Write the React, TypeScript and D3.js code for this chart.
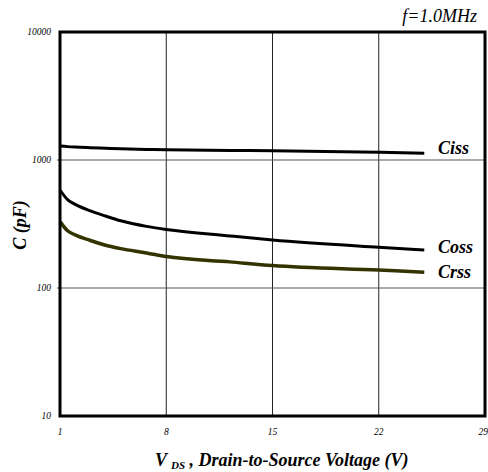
import React from "react";
import * as d3 from "d3";

const W = 488;
const H = 472;

const xTicks = [1, 8, 15, 22, 29];
const yTicks = [10, 100, 1000, 10000];

const vds = [1, 1.5, 2, 3, 4, 5, 6.7, 8, 12.2, 15, 22, 25];
const ciss = [1286, 1272, 1262, 1248, 1236, 1225, 1210, 1200, 1188, 1180, 1148, 1128];
const coss = [583, 490, 450, 400, 365, 335, 303, 287, 255, 237, 208, 198];
const crss = [330, 280, 260, 235, 216, 203, 188, 176, 160, 150, 138, 133];

const series = [
  { name: "Ciss", values: ciss, color: "#000000", width: 3, labelOffset: -6 },
  { name: "Coss", values: coss, color: "#000000", width: 3, labelOffset: -3 },
  { name: "Crss", values: crss, color: "#333300", width: 3.5, labelOffset: 0 },
];

const FONT = "'Liberation Serif', 'Times New Roman', serif";

export default function App() {
  const left = 60, right = 485, top = 32, bottom = 416;
  const x = d3.scaleLinear().domain([1, 29]).range([left, right]);
  const y = d3.scaleLog().domain([10, 10000]).range([bottom, top]);
  const line = d3
    .line<[number, number]>()
    .x((d) => x(d[0]))
    .y((d) => y(d[1]))
    .curve(d3.curveMonotoneX);

  return (
    <svg
      width={W}
      height={H}
      style={{ position: "absolute", left: 0, top: 0, background: "#fff" }}
      fontFamily={FONT}
    >
      <rect x={0} y={0} width={W} height={H} fill="#fff" />
      {xTicks.slice(1, -1).map((t) => (
        <line key={"gx" + t} x1={x(t)} x2={x(t)} y1={top} y2={bottom} stroke="#222" strokeWidth={1} />
      ))}
      {yTicks.slice(1, -1).map((t) => (
        <line key={"gy" + t} x1={left - 3} x2={right} y1={y(t)} y2={y(t)} stroke="#555" strokeWidth={1} />
      ))}
      {series.map((s) => (
        <path
          key={s.name}
          d={line(vds.map((v, i) => [v, s.values[i]]) as [number, number][]) || ""}
          fill="none"
          stroke={s.color}
          strokeWidth={s.width}
          strokeLinejoin="round"
        />
      ))}
      <rect x={left} y={top} width={right - left} height={bottom - top} fill="none" stroke="#000" strokeWidth={3} />
      {yTicks.map((t) => (
        <text key={"yl" + t} x={51} y={y(t)} dy="0.35em" textAnchor="end" fontSize={9.5} fontStyle="italic" fill="#000">
          {t}
        </text>
      ))}
      {xTicks.map((t, i) => (
        <text
          key={"xl" + t}
          x={i === xTicks.length - 1 ? W : x(t)}
          y={432}
          dy="0.35em"
          textAnchor={i === xTicks.length - 1 ? "end" : "middle"}
          fontSize={9.5}
          fontStyle="italic"
          fill="#000"
        >
          {t}
        </text>
      ))}
      {series.map((s) => {
        const last = s.values[s.values.length - 1];
        return (
          <text
            key={"sl" + s.name}
            x={438}
            y={y(last) + s.labelOffset}
            dy="0.35em"
            fontSize={18}
            fontWeight="bold"
            fontStyle="italic"
            fill="#000"
          >
            {s.name}
          </text>
        );
      })}
      <text x={477} y={22} textAnchor="end" fontSize={18} fontStyle="italic" fill="#000">
        f=1.0MHz
      </text>
      <text
        transform="translate(26,225) rotate(-90)"
        textAnchor="middle"
        fontSize={18}
        fontWeight="bold"
        fontStyle="italic"
        fill="#000"
      >
        C (pF)
      </text>
      <text x={155} y={466} fontSize={18} fontWeight="bold" fontStyle="italic" fill="#000">
        V
        <tspan fontSize={11} dy={3} dx={4}>DS</tspan>
        <tspan dy={-3}> , Drain-to-Source Voltage (V)</tspan>
      </text>
    </svg>
  );
}
